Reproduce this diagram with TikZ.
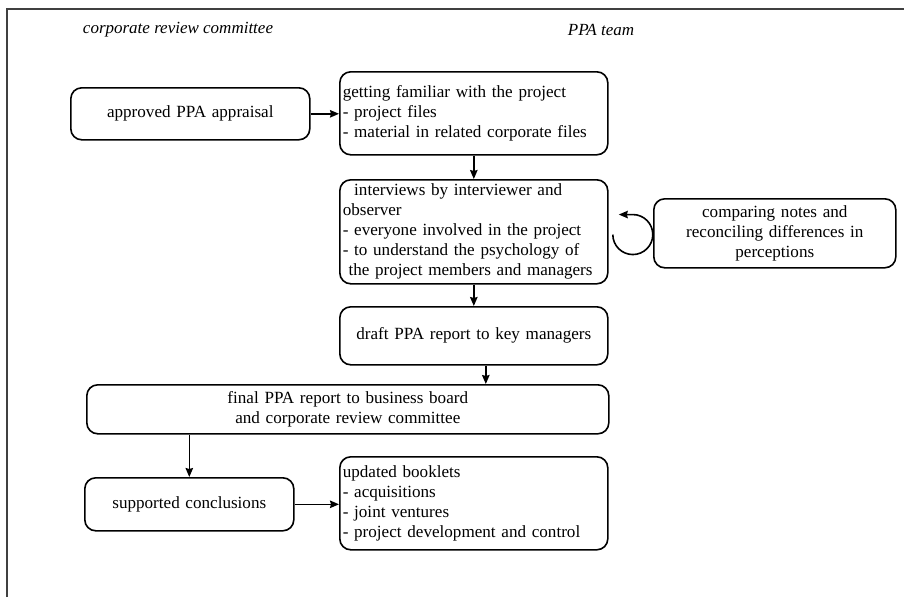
\documentclass[tikz,border=0pt]{standalone}
\usepackage{fontspec}
\setmainfont{Liberation Serif}
\usetikzlibrary{arrows.meta,calc}
\begin{document}
\begin{tikzpicture}[x=1pt,y=-1pt,
  every node/.style={font=\fontsize{17.1}{20}\selectfont},
  box/.style={draw, line width=1.6pt, rounded corners=11pt, inner sep=0pt,
    inner xsep=3pt, anchor=north west},
  lbox/.style={box, align=left},
  cbox/.style={box, align=center},
  flow/.style={-{Stealth[length=9pt,width=7.5pt,inset=1pt]}, line width=1.6pt},
  header/.style={font=\fontsize{17}{20}\selectfont\itshape}]
\useasboundingbox (0,0) rectangle (904,597);
% outer frame
\draw[line width=2pt, black!75] (7,597) -- (7,9) -- (904,9);
% column headings
\node[header] (hcrc) at (178,30) {corporate review committee};
\node[header] (hppa) at (601,30) {PPA team};
% process steps
\node[cbox, text width=233pt, minimum height=52pt] (approved) at (70,87)
  {approved PPA appraisal};
\node[lbox, text width=262pt, minimum height=83pt] (familiar) at (339,71)
  {getting familiar with the project\\- project files\\- material in related corporate files};
\node[lbox, text width=262pt, minimum height=104pt] (interviews) at (339,179)
  {\ \ interviews by interviewer and\\observer\\- everyone involved in the project\\- to understand the psychology of\\\ the project members and managers};
\node[cbox, text width=236pt, minimum height=69pt] (comparing) at (653,198)
  {comparing notes and\\reconciling differences in\\perceptions};
\node[cbox, text width=262pt, minimum height=58pt] (draft) at (339,306)
  {draft PPA report to key managers};
\node[cbox, text width=516pt, minimum height=49pt] (final) at (86,384)
  {final PPA report to business board\\and corporate review committee};
\node[cbox, text width=203pt, minimum height=53pt] (supported) at (84,477)
  {supported conclusions};
\node[lbox, text width=262pt, minimum height=93pt] (updated) at (339,456)
  {updated booklets\\- acquisitions\\- joint ventures\\- project development and control};
% connectors
\draw[flow] (approved.east) -- (familiar.west |- approved.east);
\draw[flow] (familiar.south) -- (interviews.north);
\draw[flow] (interviews.south) -- (draft.north);
\draw[flow] ([xshift=12pt]draft.south) -- ([xshift=12pt]draft.south |- final.north);
\draw[flow] (supported.north |- final.south) -- (supported.north);
\draw[flow] (supported.east) -- (updated.west |- supported.east);
% feedback loop between the interviews and the comparison of notes
\coordinate (loopc) at ($(interviews.east)!0.5!(comparing.west)+(2,2)$);
\draw[flow] ($(loopc)+(-20,0)$) arc[start angle=180, end angle=450, radius=20pt]
  -- ++(-14,0);
\end{tikzpicture}
\end{document}
